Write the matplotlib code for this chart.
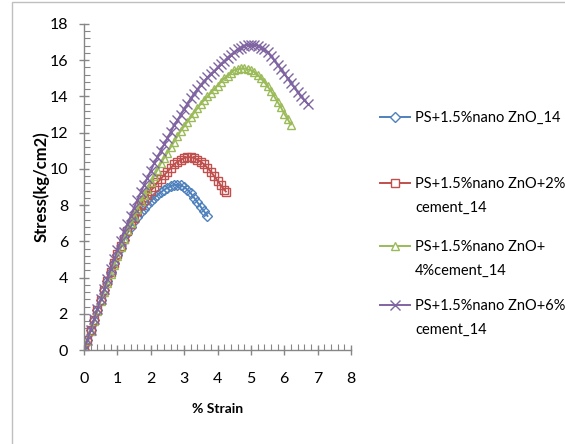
import matplotlib
matplotlib.use("Agg")
import matplotlib.pyplot as plt
from matplotlib.lines import Line2D
from matplotlib.patches import Rectangle
from matplotlib.ticker import MultipleLocator

plt.rcParams["font.family"] = ["Lato", "DejaVu Sans"]

# strain (%) and stress (kg/cm2)
strain_zno = [0.0, 0.1, 0.2, 0.3, 0.4, 0.5, 0.6, 0.7, 0.8, 0.9, 1.0, 1.1, 1.2, 1.3,
              1.4, 1.5, 1.6, 1.7, 1.8, 1.9, 2.0, 2.1, 2.2, 2.3, 2.4, 2.5, 2.6, 2.7,
              2.8, 2.9, 3.0, 3.1, 3.2, 3.3, 3.4, 3.5, 3.6, 3.7]
stress_zno = [0.0, 0.55, 1.1, 1.65, 2.2, 2.75, 3.3, 3.8, 4.3, 4.8, 5.25, 5.65, 6.05,
              6.45, 6.8, 7.1, 7.35, 7.6, 7.8, 8.0, 8.2, 8.4, 8.55, 8.7, 8.85, 8.95,
              9.05, 9.12, 9.12, 9.1, 9.0, 8.85, 8.65, 8.4, 8.15, 7.9, 7.65, 7.4]

strain_2c = [0.0, 0.1, 0.2, 0.3, 0.4, 0.5, 0.6, 0.7, 0.8, 0.9, 1.0, 1.1, 1.2, 1.3,
             1.4, 1.5, 1.6, 1.7, 1.8, 1.9, 2.0, 2.1, 2.2, 2.3, 2.4, 2.5, 2.6, 2.7,
             2.8, 2.9, 3.0, 3.1, 3.2, 3.3, 3.4, 3.5, 3.6, 3.7, 3.8, 3.9, 4.0, 4.1,
             4.2, 4.25]
stress_2c = [0.0, 0.55, 1.1, 1.65, 2.2, 2.75, 3.3, 3.8, 4.3, 4.8, 5.3, 5.75, 6.15,
             6.55, 6.95, 7.3, 7.65, 8.0, 8.3, 8.55, 8.8, 9.0, 9.25, 9.45, 9.65, 9.85,
             10.05, 10.25, 10.4, 10.5, 10.6, 10.65, 10.65, 10.6, 10.5, 10.4, 10.25,
             10.05, 9.85, 9.6, 9.35, 9.1, 8.85, 8.75]

strain_4c = [0.0, 0.1, 0.2, 0.3, 0.4, 0.5, 0.6, 0.7, 0.8, 0.9, 1.0, 1.1, 1.2, 1.3,
             1.4, 1.5, 1.6, 1.7, 1.8, 1.9, 2.0, 2.1, 2.2, 2.3, 2.4, 2.5, 2.6, 2.7,
             2.8, 2.9, 3.0, 3.1, 3.2, 3.3, 3.4, 3.5, 3.6, 3.7, 3.8, 3.9, 4.0, 4.1,
             4.2, 4.3, 4.4, 4.5, 4.6, 4.7, 4.8, 4.9, 5.0, 5.1, 5.2, 5.3, 5.4, 5.5,
             5.6, 5.7, 5.8, 5.9, 6.0, 6.1, 6.2]
stress_4c = [0.0, 0.5, 1.05, 1.6, 2.15, 2.7, 3.2, 3.7, 4.2, 4.7, 5.2, 5.7, 6.15,
             6.6, 7.0, 7.4, 7.8, 8.2, 8.55, 8.9, 9.25, 9.6, 9.95, 10.3, 10.6, 10.9,
             11.2, 11.5, 11.8, 12.1, 12.35, 12.6, 12.85, 13.1, 13.35, 13.6, 13.8,
             14.0, 14.2, 14.4, 14.6, 14.8, 15.0, 15.15, 15.3, 15.45, 15.5, 15.55,
             15.55, 15.5, 15.45, 15.35, 15.2, 15.0, 14.8, 14.55, 14.3, 14.0, 13.7,
             13.4, 13.05, 12.75, 12.45]

strain_6c = [0.0, 0.1, 0.2, 0.3, 0.4, 0.5, 0.6, 0.7, 0.8, 0.9, 1.0, 1.1, 1.2, 1.3,
             1.4, 1.5, 1.6, 1.7, 1.8, 1.9, 2.0, 2.1, 2.2, 2.3, 2.4, 2.5, 2.6, 2.7,
             2.8, 2.9, 3.0, 3.1, 3.2, 3.3, 3.4, 3.5, 3.6, 3.7, 3.8, 3.9, 4.0, 4.1,
             4.2, 4.3, 4.4, 4.5, 4.6, 4.7, 4.8, 4.9, 5.0, 5.1, 5.2, 5.3, 5.4, 5.5,
             5.6, 5.7, 5.8, 5.9, 6.0, 6.1, 6.2, 6.3, 6.4, 6.5, 6.6, 6.7]
stress_6c = [0.0, 0.55, 1.1, 1.7, 2.25, 2.8, 3.35, 3.9, 4.45, 5.0, 5.5, 6.0, 6.5,
             6.95, 7.4, 7.85, 8.3, 8.7, 9.1, 9.5, 9.9, 10.3, 10.65, 11.0, 11.35,
             11.7, 12.05, 12.4, 12.7, 13.0, 13.3, 13.6, 13.9, 14.15, 14.4, 14.65,
             14.85, 15.05, 15.25, 15.4, 15.6, 15.8, 15.95, 16.15, 16.3, 16.45, 16.6,
             16.7, 16.8, 16.85, 16.85, 16.85, 16.8, 16.7, 16.6, 16.45, 16.25, 16.0,
             15.75, 15.5, 15.25, 15.0, 14.75, 14.5, 14.25, 14.0, 13.8, 13.6]

labels = [["PS+1.5%nano ZnO_14"],
          ["PS+1.5%nano ZnO+2%", "cement_14"],
          ["PS+1.5%nano ZnO+", "4%cement_14"],
          ["PS+1.5%nano ZnO+6%", "cement_14"]]
colors = ["#4F81BD", "#C0504D", "#9BBB59", "#8064A2"]
markers = ["D", "s", "^", "x"]
sizes = [5, 5.5, 6, 6.5]

series = [(strain_zno, stress_zno), (strain_2c, stress_2c),
          (strain_4c, stress_4c), (strain_6c, stress_6c)]

W, H = 565, 444
fig = plt.figure(figsize=(W / 100, H / 100), dpi=100)
ax = fig.add_axes([84 / W, 94 / H, 267 / W, 326 / H])

for (xs, ys), c, m, ms in zip(series, colors, markers, sizes):
    ax.plot(xs, ys, color=c, lw=1.4, marker=m, ms=ms, mfc="none", mec=c, mew=1.0)

ax.set_xlim(0, 8)
ax.set_ylim(0, 18)
ax.xaxis.set_major_locator(MultipleLocator(1))
ax.xaxis.set_minor_locator(MultipleLocator(0.2))
ax.yaxis.set_major_locator(MultipleLocator(2))
ax.yaxis.set_minor_locator(MultipleLocator(0.4))

for side in ["top", "right"]:
    ax.spines[side].set_visible(False)
for side in ["left", "bottom"]:
    ax.spines[side].set_color("#868686")
    ax.spines[side].set_linewidth(1.0)

ax.tick_params(which="major", direction="inout", length=7, width=1.0,
               color="#868686", labelsize=11.5)
ax.tick_params(which="minor", direction="in", length=4, width=0.8, color="#868686")
ax.tick_params(axis="x", which="major", pad=12)
ax.tick_params(axis="y", which="major", pad=8)

ax.set_xlabel("% Strain", fontsize=10, fontweight="bold")
ax.xaxis.set_label_coords(0.5, -(410 - 350) / 326 + 0.02)
ax.set_ylabel("Stress(kg/cm2)", fontsize=12, fontweight="bold")
ax.yaxis.set_label_coords(-(84 - 50) / 267, 0.5)

# legend drawn by hand so each entry sits where the reference has it
rows = [117, 183, 246, 305]
for lab, c, m, ms, y in zip(labels, colors, markers, sizes, rows):
    fy = 1 - y / H
    fig.add_artist(Line2D([380 / W, 410 / W], [fy, fy], transform=fig.transFigure,
                          color=c, lw=1.4))
    fig.add_artist(Line2D([395 / W], [fy], transform=fig.transFigure, color=c,
                          marker=m, ms=ms, mfc="white", mec=c, mew=1.0))
    for i, line in enumerate(lab):
        fig.text(415 / W, 1 - (y + 1 + 24 * i) / H, line, fontsize=10.5,
                 ha="left", va="center")

# chart area border (runs off the right and bottom edges)
fig.patches.append(Rectangle((12 / W, -0.05), 1.0, 1 - 2 / H + 0.05,
                             transform=fig.transFigure, fill=False,
                             edgecolor="#BFBFBF", lw=1.0))

fig.savefig("out.png", dpi=100)
